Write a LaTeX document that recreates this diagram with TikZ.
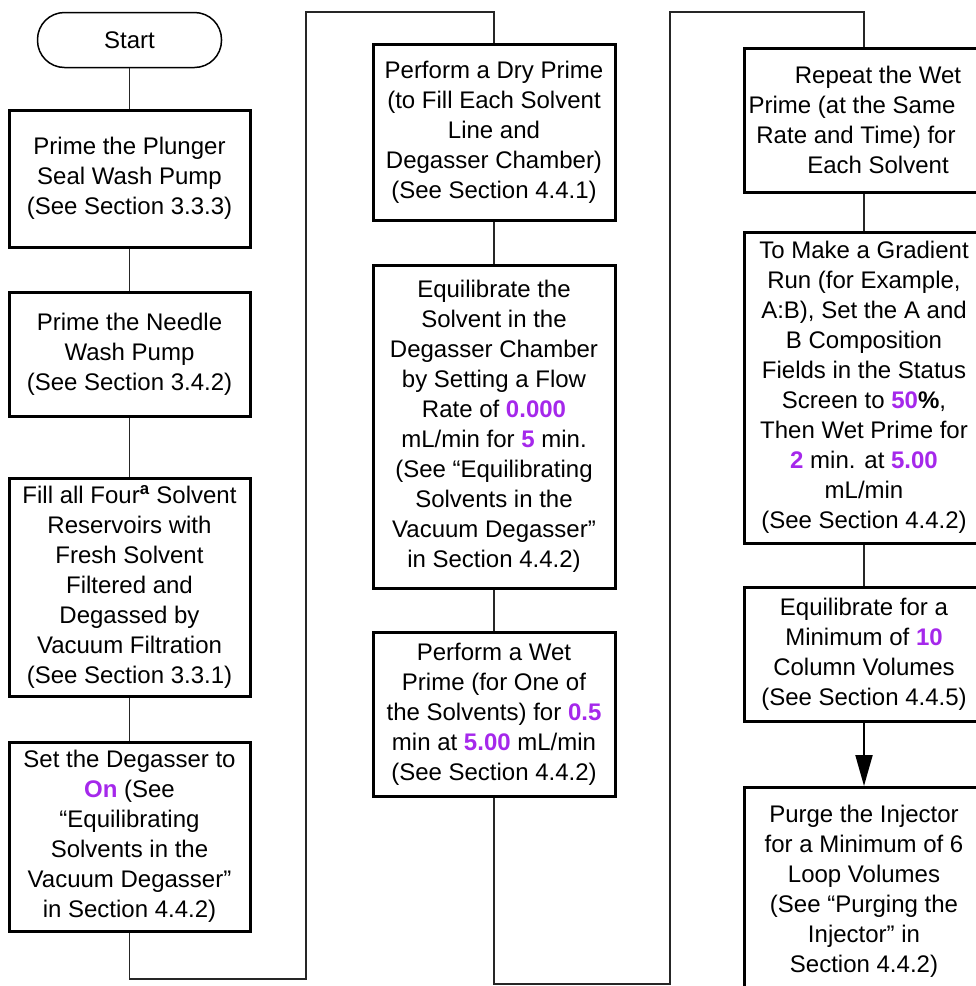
\documentclass[tikz,border=0pt]{standalone}
\usepackage{fontspec}
\setmainfont{Liberation Sans}
\usetikzlibrary{arrows.meta}
\definecolor{hl}{RGB}{165,40,235}
\newcommand{\hv}[1]{\textcolor{hl}{\bfseries #1}}
\begin{document}
\begin{tikzpicture}[x=1pt,y=-1pt,
  stepbox/.style={draw, line width=3pt, align=center, inner sep=0pt,
    font=\fontsize{24}{30}\selectfont},
  termbox/.style={draw, line width=1.5pt, rounded corners=27pt, inner sep=0pt,
    minimum width=184pt, minimum height=55pt, font=\fontsize{24}{30}\selectfont},
  conn/.style={line width=1.5pt, draw=black!85},
  flowarrow/.style={line width=2pt, -{Triangle[width=17pt,length=31pt]}}]
\useasboundingbox (0,0) rectangle (976,986);
\clip (0,0) rectangle (976,986);

% first column
\node[termbox] (st) at (129.5,40) {Start};
\node[stepbox, minimum width=241pt, minimum height=137pt] (p1) at (129.5,178.5)
  {Prime the Plunger\\Seal Wash Pump\\(See Section 3.3.3)};
\node[stepbox, minimum width=241pt, minimum height=124pt] (p2) at (129.5,354)
  {Prime the Needle\\Wash Pump\\(See Section 3.4.2)};
\node[stepbox, minimum width=241pt, minimum height=218pt] (p3) at (129.5,587)
  {Fill all Four\textsuperscript{\textbf{a}} Solvent\\Reservoirs with\\Fresh Solvent\\Filtered and\\Degassed by\\Vacuum Filtration\\(See Section 3.3.1)};
\node[stepbox, minimum width=241pt, minimum height=189pt] (p4) at (129.5,836.5)
  {Set the Degasser to\\\hv{On} (See\\“Equilibrating\\Solvents in the\\Vacuum Degasser”\\in Section 4.4.2)};

% second column
\node[stepbox, minimum width=242pt, minimum height=176pt] (p5) at (494,132)
  {Perform a Dry Prime\\(to Fill Each Solvent\\Line and\\Degasser Chamber)\\(See Section 4.4.1)};
\node[stepbox, minimum width=242pt, minimum height=323pt] (p6) at (494,426.5)
  {Equilibrate the\\Solvent in the\\Degasser Chamber\\by Setting a Flow\\Rate of \hv{0.000}\\mL/min for \hv{5} min.\\(See “Equilibrating\\Solvents in the\\Vacuum Degasser”\\in Section 4.4.2)};
\node[stepbox, minimum width=242pt, minimum height=164pt] (p7) at (494,714)
  {Perform a Wet\\Prime (for One of\\the Solvents) for \hv{0.5}\\min at \hv{5.00} mL/min\\(See Section 4.4.2)};

% third column (boxes run past the right edge)
\node[stepbox, minimum width=268pt, minimum height=144pt] (p8) at (878,120)
  {Repeat the Wet\\\hspace*{-52pt}Prime (at the Same\\\hspace*{-44pt}Rate and Time) for\\Each Solvent};
\node[stepbox, minimum width=240pt, minimum height=311pt] (p9) at (864,387.5)
  {To Make a Gradient\\Run (for Example,\\A:B), Set the A and\\B Composition\\Fields in the Status\\Screen to \hv{50}\textbf{\%},\\Then Wet Prime for\\\hv{2} min. at \hv{5.00}\\mL/min\\(See Section 4.4.2)};
\node[stepbox, minimum width=240pt, minimum height=134pt] (p10) at (864,654)
  {Equilibrate for a\\Minimum of \hv{10}\\Column Volumes\\(See Section 4.4.5)};
\node[stepbox, minimum width=240pt, inner ysep=18pt, text depth=90pt, anchor=north] (p11) at (864,786)
  {Purge the Injector\\for a Minimum of 6\\Loop Volumes\\(See “Purging the\\Injector” in\\Section 4.4.2)};

% bends of the two long connectors
\coordinate (k1) at (306,979);
\coordinate (k2) at (306,12);
\coordinate (k3) at (670,984);
\coordinate (k4) at (670,12);

% connectors
\draw[conn] (st) -- (p1);
\draw[conn] (p1) -- (p2);
\draw[conn] (p2) -- (p3);
\draw[conn] (p3) -- (p4);
\draw[conn] (p4.south) |- (k1) -- (k2) -| (p5.north);
\draw[conn] (p5) -- (p6);
\draw[conn] (p6) -- (p7);
\draw[conn] (p7.south) |- (k3) -- (k4) -| (p8.north -| p9.north);
\draw[conn] (p8.south -| p9.north) -- (p9.north);
\draw[conn] (p9) -- (p10);
\draw[flowarrow] (p10.south) -- (p11.north);
\end{tikzpicture}
\end{document}
